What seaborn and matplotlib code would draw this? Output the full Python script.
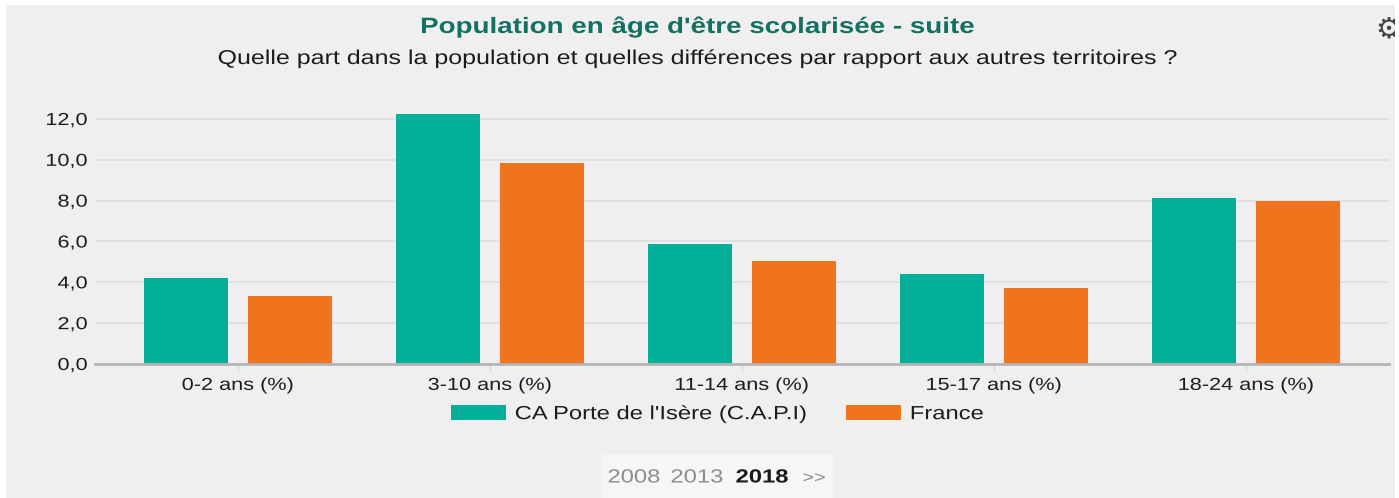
import matplotlib
matplotlib.use("Agg")
import matplotlib.pyplot as plt
from matplotlib.patches import Rectangle
from matplotlib.patheffects import AbstractPathEffect
from matplotlib.transforms import Affine2D, Bbox
import pandas as pd
import seaborn as sns

title = "Population en âge d'être scolarisée - suite"
subtitle = "Quelle part dans la population et quelles différences par rapport aux autres territoires ?"
categories = ["0-2 ans (%)", "3-10 ans (%)", "11-14 ans (%)", "15-17 ans (%)", "18-24 ans (%)"]
capi_name = "CA Porte de l'Isère (C.A.P.I)"
france_name = "France"
capi_values = [4.2, 12.26, 5.9, 4.43, 8.15]
france_values = [3.35, 9.86, 5.05, 3.74, 8.0]
y_ticks = [0, 2, 4, 6, 8, 10, 12]
y_labels = ["0,0", "2,0", "4,0", "6,0", "8,0", "10,0", "12,0"]
pager_years = ["2008", "2013", "2018", ">>"]

W, H = 1399, 498
BG = "#efefef"
TEAL = "#05b09b"
ORANGE = "#f0731d"
DARK = "#1c1c1c"
STRETCH = 1.25


class HStretch(AbstractPathEffect):
    """Widen a text about its left, centre or right edge (the reference is stretched sideways)."""
    def __init__(self, factor=STRETCH, anchor="center"):
        super().__init__()
        self.factor = factor
        self.anchor = anchor

    def draw_path(self, renderer, gc, tpath, affine, rgbFace=None):
        ext = tpath.get_extents(affine)
        x0 = {"left": ext.x0, "center": (ext.x0 + ext.x1) / 2, "right": ext.x1}[self.anchor]
        extra = Affine2D().translate(-x0, 0).scale(self.factor, 1).translate(x0, 0)
        renderer.draw_path(gc, tpath, affine + extra, rgbFace)


sns.set_theme(style="white")
plt.rcParams["font.family"] = ["Liberation Sans", "DejaVu Sans"]

fig = plt.figure(figsize=(W / 100, H / 100), dpi=100, facecolor="white")
def fx(x): return x / W
def fy(y): return 1 - y / H

fig.patches.append(Rectangle((fx(6), 0), (1395 - 6) / W, (H - 5) / H, transform=fig.transFigure,
                             facecolor=BG, edgecolor="none", zorder=-10))
fig.patches.append(Rectangle((fx(602), 0), 231 / W, 43 / H, transform=fig.transFigure,
                             facecolor="#f6f6f6", edgecolor="none", zorder=-9))

top_px, bottom_px = 103, 364
ax = fig.add_axes([fx(95), fy(bottom_px), (1389 - 95) / W, (bottom_px - top_px) / H])
ax.set_facecolor("none")

df = pd.DataFrame({
    "cat": categories * 2,
    "val": capi_values + france_values,
    "serie": [capi_name] * len(categories) + [france_name] * len(categories),
})
sns.barplot(data=df, x="cat", y="val", hue="serie", palette=[TEAL, ORANGE],
            width=0.83, gap=0.196, saturation=1, ax=ax, zorder=3, linewidth=0)

ax.set_xlim(-0.567, 4.567)
ax.set_ylim(0, (bottom_px - top_px) / ((364 - 119) / 12))
ax.set_xlabel("")
ax.set_ylabel("")
ax.set_yticks(y_ticks)
ax.set_yticklabels(y_labels, fontsize=12.5, color=DARK)
ax.tick_params(axis="y", length=0, pad=5.5)
ax.tick_params(axis="x", length=5, width=1, color="#d5d5d5", labelsize=12.5, labelcolor=DARK, pad=5, bottom=True)
for lab in ax.get_xticklabels():
    lab.set_path_effects([HStretch()])
for lab in ax.get_yticklabels():
    lab.set_path_effects([HStretch(anchor="right")])
ax.grid(axis="y", color="#dfdfdf", linewidth=1.3, zorder=0)
ax.set_axisbelow(True)
for side in ["top", "right", "left"]:
    ax.spines[side].set_visible(False)
ax.spines["bottom"].set_color("#b5b5b5")
ax.spines["bottom"].set_linewidth(2)
ax.spines["bottom"].set_zorder(5)

handles, labels = ax.get_legend_handles_labels()
if ax.get_legend():
    ax.get_legend().remove()
leg = fig.legend(handles, labels, loc="center left", bbox_to_anchor=(fx(451), fy(414)), ncol=2, frameon=False,
                 fontsize=13.7, labelcolor=DARK, handlelength=2.89, handleheight=0.87,
                 handletextpad=0.47, columnspacing=5.2, borderpad=0, borderaxespad=0)
for t in leg.get_texts():
    t.set_path_effects([HStretch(anchor="left")])

t1 = fig.text(fx(697), fy(27.5), title, ha="center", va="center", fontsize=16, fontweight="bold", color="#14705f")
t2 = fig.text(fx(698), fy(58.5), subtitle, ha="center", va="center", fontsize=14.4, color=DARK)
t1.set_path_effects([HStretch()])
t2.set_path_effects([HStretch()])

pager_x = [634, 697, 762, 814]
pager_style = [("#8c8c8c", "normal", 13.7), ("#8c8c8c", "normal", 13.7), ("#1a1a1a", "bold", 13.7), ("#8c8c8c", "normal", 11.5)]
for label, x, (c, w, s) in zip(pager_years, pager_x, pager_style):
    pt = fig.text(fx(x), fy(478), label, ha="center", va="center", color=c, fontweight=w, fontsize=s)
    pt.set_path_effects([HStretch()])

gear = fig.text(fx(1375), fy(29), "\u2699", ha="left", va="center", fontsize=21, color="#444444",
                family="DejaVu Sans")
gear.set_clip_box(Bbox([[0, 0], [1395, H]]))
gear.set_clip_on(True)

fig.savefig("out.png", dpi=100, facecolor="white")
